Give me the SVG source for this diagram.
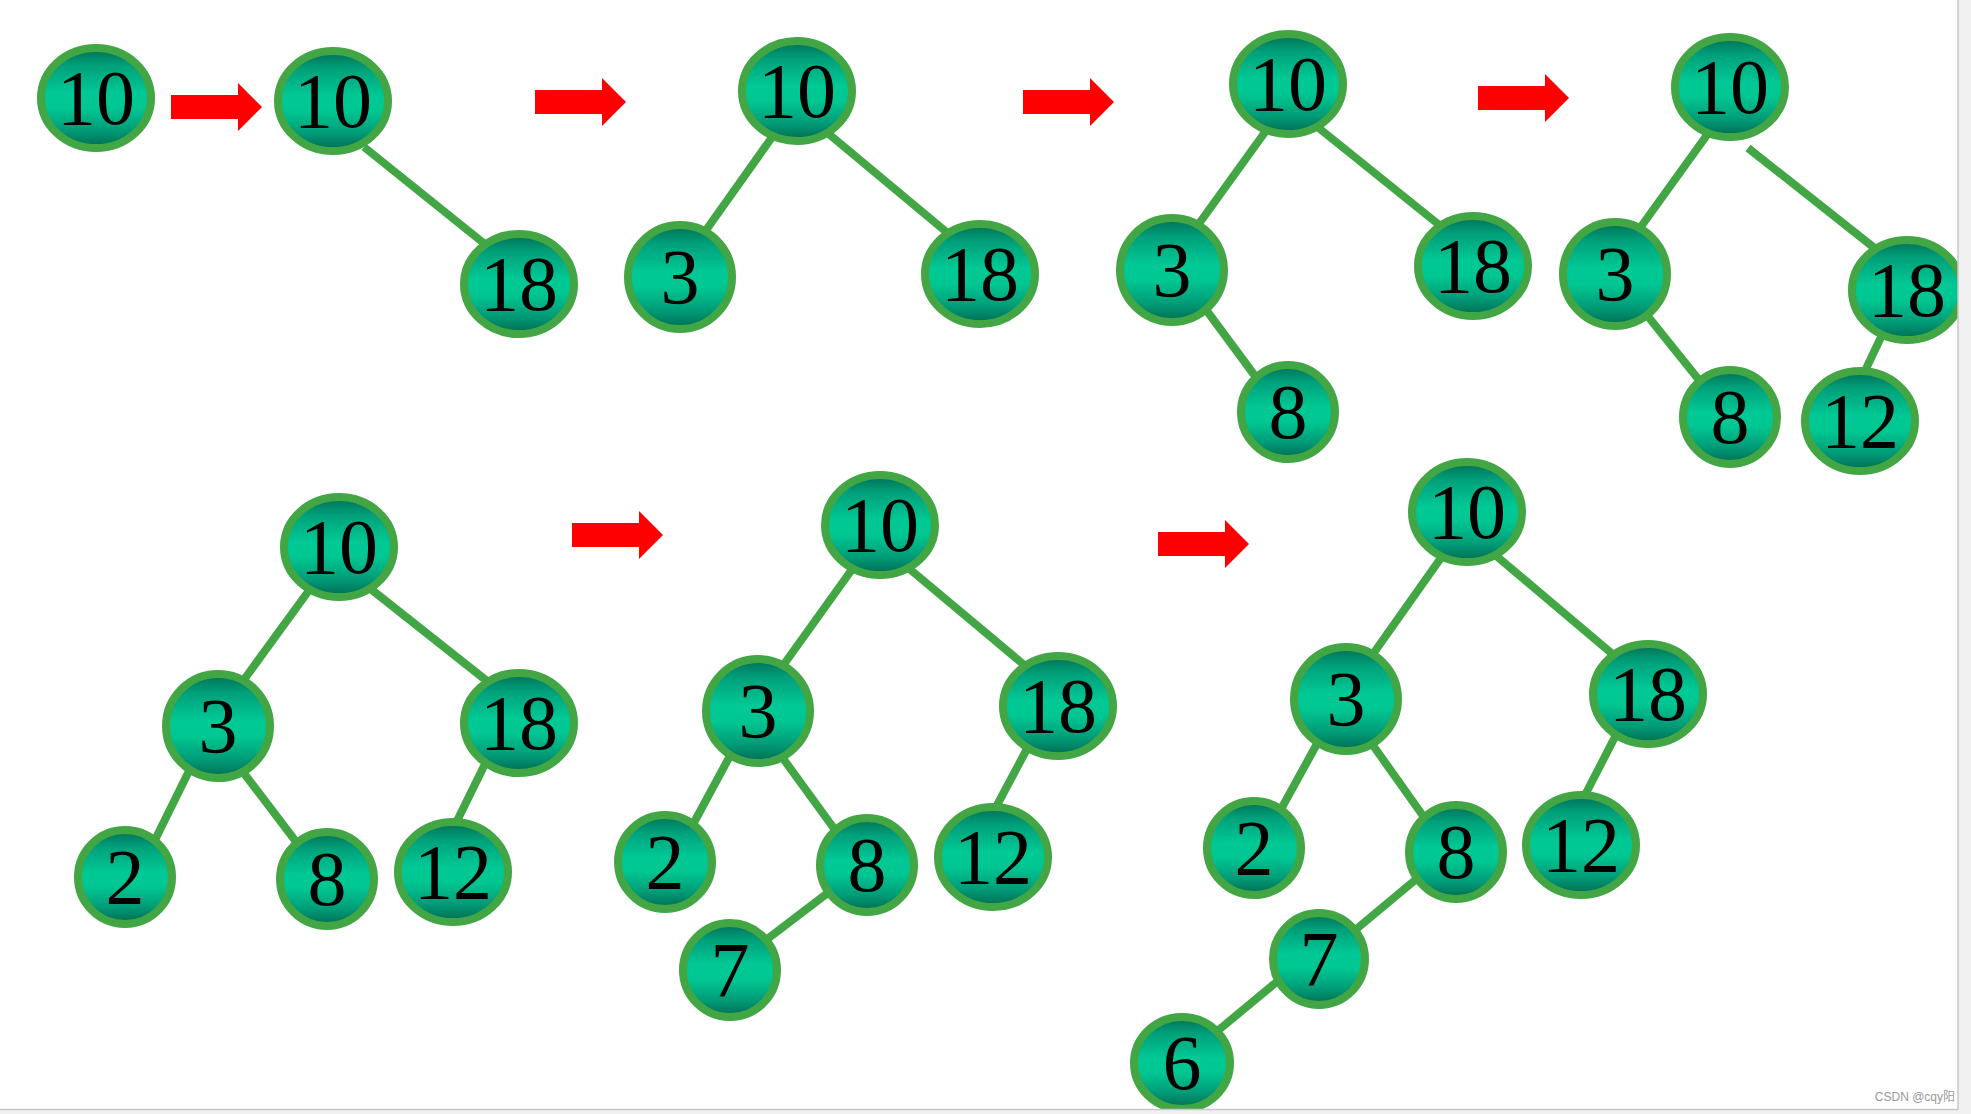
<svg xmlns="http://www.w3.org/2000/svg" xmlns:xlink="http://www.w3.org/1999/xlink" width="1971" height="1114" viewBox="0 0 1971 1114">
<defs>
<linearGradient id="nf" x1="0" y1="0" x2="0" y2="1">
<stop offset="0" stop-color="#006e54"/>
<stop offset="0.18" stop-color="#00a07a"/>
<stop offset="0.45" stop-color="#00c995"/>
<stop offset="0.6" stop-color="#00c792"/>
<stop offset="0.82" stop-color="#009c77"/>
<stop offset="1" stop-color="#006a50"/>
</linearGradient>
<path id="arrow" d="M0,-12 H67 V-24 L91,0 L67,24 V12 H0 Z" fill="#ff0000"/>
<style>
.n ellipse{fill:url(#nf);stroke:#41a643;stroke-width:8}
.n text{font-family:"Liberation Serif","Times New Roman",serif;font-size:78px;fill:#000;text-anchor:middle}
.e line{stroke:#41a643;stroke-width:8}
</style>
</defs>
<rect width="1971" height="1114" fill="#ffffff"/>
<g id="arrows">
<use xlink:href="#arrow" x="171" y="107"/>
<use xlink:href="#arrow" x="535" y="102"/>
<use xlink:href="#arrow" x="1023" y="102"/>
<use xlink:href="#arrow" x="1478" y="98"/>
<use xlink:href="#arrow" x="572" y="535"/>
<use xlink:href="#arrow" x="1158" y="544"/>
</g>
<g id="connectors" class="e">
<line x1="364" y1="147" x2="486" y2="245"/>
<line x1="775" y1="133" x2="704" y2="233"/>
<line x1="824" y1="130" x2="950" y2="235"/>
<line x1="1268" y1="128" x2="1198" y2="225"/>
<line x1="1315" y1="125" x2="1443" y2="228"/>
<line x1="1207" y1="311" x2="1258" y2="380"/>
<line x1="1707" y1="135" x2="1640" y2="228"/>
<line x1="1748" y1="148" x2="1877" y2="250"/>
<line x1="1646" y1="314" x2="1699" y2="380"/>
<line x1="1882" y1="335" x2="1864" y2="373"/>
<line x1="310" y1="589" x2="243" y2="681"/>
<line x1="372" y1="590" x2="487" y2="681"/>
<line x1="190" y1="769" x2="150" y2="850"/>
<line x1="243" y1="772" x2="297" y2="843"/>
<line x1="486" y1="762" x2="456" y2="823"/>
<line x1="853" y1="568" x2="782" y2="667"/>
<line x1="906" y1="566" x2="1029" y2="669"/>
<line x1="731" y1="754" x2="691" y2="828"/>
<line x1="782" y1="757" x2="838" y2="834"/>
<line x1="1028" y1="747" x2="995" y2="809"/>
<line x1="829" y1="892" x2="762" y2="943"/>
<line x1="1443" y1="555" x2="1373" y2="654"/>
<line x1="1494" y1="554" x2="1616" y2="657"/>
<line x1="1318" y1="742" x2="1280" y2="811"/>
<line x1="1372" y1="744" x2="1426" y2="820"/>
<line x1="1616" y1="735" x2="1584" y2="797"/>
<line x1="1420" y1="876" x2="1354" y2="931"/>
<line x1="1279" y1="980" x2="1215" y2="1033"/>
</g>
<g id="t0-10" class="n"><ellipse cx="96" cy="98" rx="55" ry="50"/><text x="96" y="124">10</text></g>
<g id="t1-10" class="n"><ellipse cx="333" cy="101" rx="55" ry="50"/><text x="333" y="127">10</text></g>
<g id="t1-18" class="n"><ellipse cx="519" cy="284" rx="55" ry="50"/><text x="519" y="310">18</text></g>
<g id="t2-10" class="n"><ellipse cx="797" cy="91" rx="55" ry="50"/><text x="797" y="117">10</text></g>
<g id="t2-3" class="n"><ellipse cx="680" cy="277" rx="52" ry="52"/><text x="680" y="303">3</text></g>
<g id="t2-18" class="n"><ellipse cx="980" cy="274" rx="55" ry="50"/><text x="980" y="300">18</text></g>
<g id="t3-10" class="n"><ellipse cx="1288" cy="84" rx="55" ry="50"/><text x="1288" y="110">10</text></g>
<g id="t3-3" class="n"><ellipse cx="1172" cy="270" rx="52" ry="52"/><text x="1172" y="296">3</text></g>
<g id="t3-18" class="n"><ellipse cx="1473" cy="266" rx="55" ry="50"/><text x="1473" y="292">18</text></g>
<g id="t3-8" class="n"><ellipse cx="1288" cy="412" rx="47" ry="47"/><text x="1288" y="438">8</text></g>
<g id="t4-10" class="n"><ellipse cx="1730" cy="87" rx="55" ry="50"/><text x="1730" y="113">10</text></g>
<g id="t4-3" class="n"><ellipse cx="1615" cy="274" rx="52" ry="52"/><text x="1615" y="300">3</text></g>
<g id="t4-18" class="n"><ellipse cx="1907" cy="290" rx="55" ry="50"/><text x="1907" y="316">18</text></g>
<g id="t4-8" class="n"><ellipse cx="1730" cy="417" rx="47" ry="47"/><text x="1730" y="443">8</text></g>
<g id="t4-12" class="n"><ellipse cx="1860" cy="421" rx="55" ry="50"/><text x="1860" y="447">12</text></g>
<g id="t5-10" class="n"><ellipse cx="339" cy="547" rx="55" ry="50"/><text x="339" y="573">10</text></g>
<g id="t5-3" class="n"><ellipse cx="218" cy="726" rx="52" ry="52"/><text x="218" y="752">3</text></g>
<g id="t5-18" class="n"><ellipse cx="519" cy="723" rx="55" ry="50"/><text x="519" y="749">18</text></g>
<g id="t5-2" class="n"><ellipse cx="125" cy="877" rx="47" ry="47"/><text x="125" y="903">2</text></g>
<g id="t5-8" class="n"><ellipse cx="327" cy="879" rx="47" ry="47"/><text x="327" y="905">8</text></g>
<g id="t5-12" class="n"><ellipse cx="453" cy="872" rx="55" ry="50"/><text x="453" y="898">12</text></g>
<g id="t6-10" class="n"><ellipse cx="880" cy="525" rx="55" ry="50"/><text x="880" y="551">10</text></g>
<g id="t6-3" class="n"><ellipse cx="758" cy="711" rx="52" ry="52"/><text x="758" y="737">3</text></g>
<g id="t6-18" class="n"><ellipse cx="1058" cy="706" rx="55" ry="50"/><text x="1058" y="732">18</text></g>
<g id="t6-2" class="n"><ellipse cx="665" cy="862" rx="47" ry="47"/><text x="665" y="888">2</text></g>
<g id="t6-8" class="n"><ellipse cx="867" cy="865" rx="47" ry="47"/><text x="867" y="891">8</text></g>
<g id="t6-12" class="n"><ellipse cx="993" cy="857" rx="55" ry="50"/><text x="993" y="883">12</text></g>
<g id="t6-7" class="n"><ellipse cx="730" cy="970" rx="47" ry="47"/><text x="730" y="996">7</text></g>
<g id="t7-10" class="n"><ellipse cx="1467" cy="512" rx="55" ry="50"/><text x="1467" y="538">10</text></g>
<g id="t7-3" class="n"><ellipse cx="1346" cy="699" rx="52" ry="52"/><text x="1346" y="725">3</text></g>
<g id="t7-18" class="n"><ellipse cx="1648" cy="694" rx="55" ry="50"/><text x="1648" y="720">18</text></g>
<g id="t7-2" class="n"><ellipse cx="1254" cy="848" rx="47" ry="47"/><text x="1254" y="874">2</text></g>
<g id="t7-8" class="n"><ellipse cx="1456" cy="852" rx="47" ry="47"/><text x="1456" y="878">8</text></g>
<g id="t7-12" class="n"><ellipse cx="1581" cy="845" rx="55" ry="50"/><text x="1581" y="871">12</text></g>
<g id="t7-7" class="n"><ellipse cx="1319" cy="959" rx="46" ry="46"/><text x="1319" y="985">7</text></g>
<g id="t7-6" class="n"><ellipse cx="1182" cy="1063" rx="48" ry="46"/><text x="1182" y="1089">6</text></g>
<g id="frame">
<rect x="1958" y="0" width="13" height="1114" fill="#f0f0f0"/>
<rect x="0" y="1110" width="1971" height="4" fill="#f0f0f0"/>
<line x1="1958" y1="0" x2="1958" y2="1110" stroke="#c8c8c8" stroke-width="1.5"/>
<line x1="0" y1="1109.5" x2="1958" y2="1109.5" stroke="#c8c8c8" stroke-width="1.5"/>
<text x="1955" y="1101" font-family="'Liberation Sans','Noto Sans CJK SC',sans-serif" font-size="12" fill="#999999" text-anchor="end">CSDN @cqy阳</text>
</g>
</svg>
